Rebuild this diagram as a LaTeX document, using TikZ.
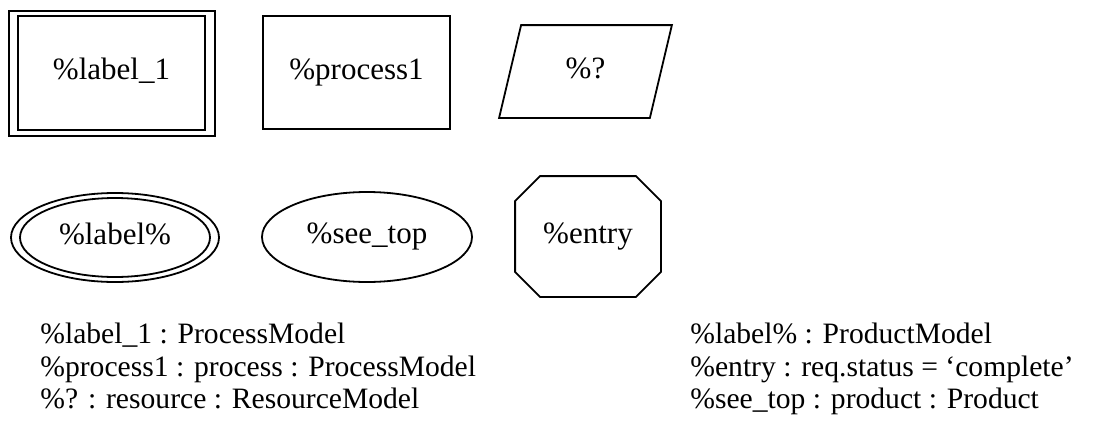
\documentclass[tikz,border=0pt]{standalone}
\usepackage{fontspec}
\setmainfont{Liberation Serif}
\usepackage{tikz}
\usetikzlibrary{positioning,shapes.geometric}

\begin{document}
\begin{tikzpicture}[x=0.5pt,y=-0.5pt,
  every node/.style={font=\fontsize{15.5}{18}\selectfont},
  forma/.style={draw, line width=0.9pt, inner sep=0pt, align=center, text height=0.68em, text depth=0pt},
  caja/.style={forma, rectangle, minimum width=93.5pt, minimum height=56.5pt},
  ovalo/.style={forma, ellipse},
  hueco/.style={forma, draw=none, rectangle},
  linea/.style={anchor=base west, inner sep=0pt, font=\fontsize{14.8}{17}\selectfont}]
\useasboundingbox (0,0) rectangle (1099,434);
% fila de arriba
\node[caja, minimum width=103pt, minimum height=62.5pt] (etqout) at (112,73.5) {};
\node[caja, minimum height=57pt] (etq) at (111.5,73) {\%label\_1};
\node[caja] (proc) at (356.5,72.5) {\%process1};
\node[hueco, minimum width=85.5pt, minimum height=45.5pt] (recu) at (585.5,71.5) {\%?};
\draw[line width=0.9pt, line join=miter] ([xshift=11pt]recu.north west) -- (recu.north east)
  -- ([xshift=-11pt]recu.south east) -- (recu.south west) -- cycle;
% fila de abajo
\node[ovalo, minimum width=104pt, minimum height=44.5pt] (prodout) at (115,237.5) {};
\node[ovalo, minimum width=95pt, minimum height=39.5pt] (prod) at (115,237.5) {\%label\%};
\node[ovalo, minimum width=105pt, minimum height=45pt] (seetop) at (367,237) {\%see\_top};
\node[hueco, minimum width=72pt, minimum height=59.5pt] (entr) at (588,236.5) {\%entry};
\draw[line width=0.9pt] ([xshift=12.5pt]entr.north west) -- ([xshift=-12.5pt]entr.north east)
  -- ([yshift=-12.5pt]entr.north east) -- ([yshift=12.5pt]entr.south east)
  -- ([xshift=-12.5pt]entr.south east) -- ([xshift=12.5pt]entr.south west)
  -- ([yshift=12.5pt]entr.south west) -- ([yshift=-12.5pt]entr.north west) -- cycle;
% leyenda
\node[linea] (ley1) at (40,343) {\%label\_1 : ProcessModel};
\node[linea] (ley2) at (40,376) {\%process1 : process : ProcessModel};
\node[linea] (ley3) at (40,408) {\%? : resource : ResourceModel};
\node[linea] (ley4) at (690,343) {\%label\% : ProductModel};
\node[linea] (ley5) at (690,376) {\%entry : req.status = ‘complete’};
\node[linea] (ley6) at (690,408) {\%see\_top : product : Product};
\end{tikzpicture}
\end{document}
